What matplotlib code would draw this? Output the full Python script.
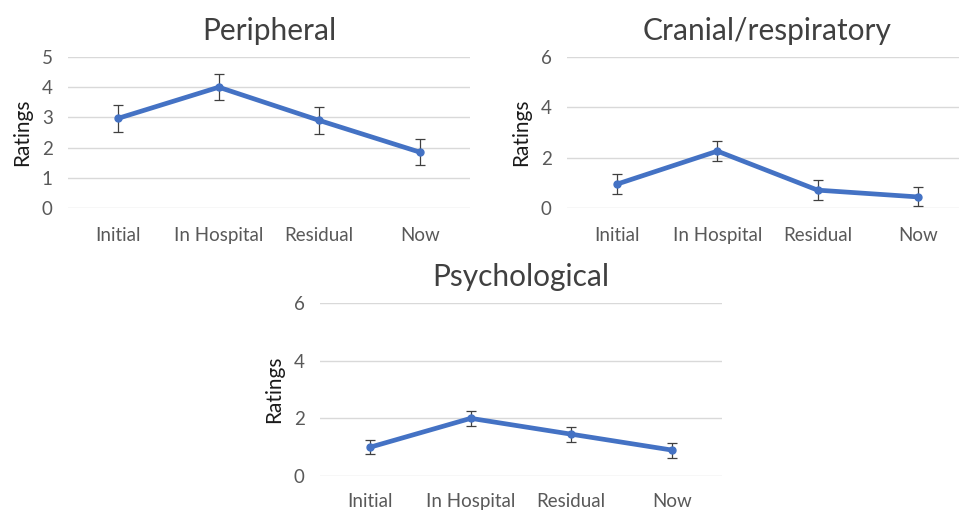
import matplotlib.pyplot as plt

categories = ["Initial", "In Hospital", "Residual", "Now"]

peripheral = [2.97, 4.0, 2.9, 1.85]
peripheral_err = [0.44, 0.44, 0.45, 0.44]

cranial = [0.95, 2.26, 0.71, 0.44]
cranial_err = [0.4, 0.4, 0.4, 0.38]

psych = [1.0, 2.0, 1.45, 0.9]
psych_err = [0.24, 0.26, 0.26, 0.26]

W, H = 959, 512
plt.rcParams['font.family'] = ['Lato', 'DejaVu Sans']

fig = plt.figure(figsize=(W / 100, H / 100), dpi=100)


def panel(left, top, right, bottom, vals, errs, title, ymax, ystep, xpad=14):
    ax = fig.add_axes([left / W, 1 - bottom / H, (right - left) / W, (bottom - top) / H])
    x = range(len(categories))
    ax.errorbar(x, vals, yerr=errs, color='#4472C4', lw=3.4, marker='o', ms=5,
                ecolor='#404040', elinewidth=0.9, capsize=3.5, capthick=0.9, zorder=3)
    ax.set_xlim(-0.5, len(categories) - 0.5)
    ax.set_ylim(0, ymax)
    ax.set_yticks(range(0, ymax + 1, ystep))
    ax.set_xticks(list(x))
    ax.set_xticklabels(categories)
    ax.grid(axis='y', color='#D9D9D9', lw=1)
    ax.set_axisbelow(True)
    for s in ax.spines.values():
        s.set_visible(False)
    ax.tick_params(length=0, labelsize=13.5, colors='#595959', pad=11)
    ax.tick_params(axis='x', pad=xpad)
    ax.set_ylabel("Ratings", fontsize=15, color='#1a1a1a', labelpad=7)
    ax.set_title(title, fontsize=21.5, color='#404040', pad=12)
    return ax


panel(68, 57, 470, 208, peripheral, peripheral_err, "Peripheral", 5, 1)
panel(567, 57, 968, 208, cranial, cranial_err, "Cranial/respiratory", 6, 2)
panel(320, 303, 722, 476, psych, psych_err, "Psychological", 6, 2, xpad=12)

fig.savefig("out.png", dpi=100, facecolor='white')
